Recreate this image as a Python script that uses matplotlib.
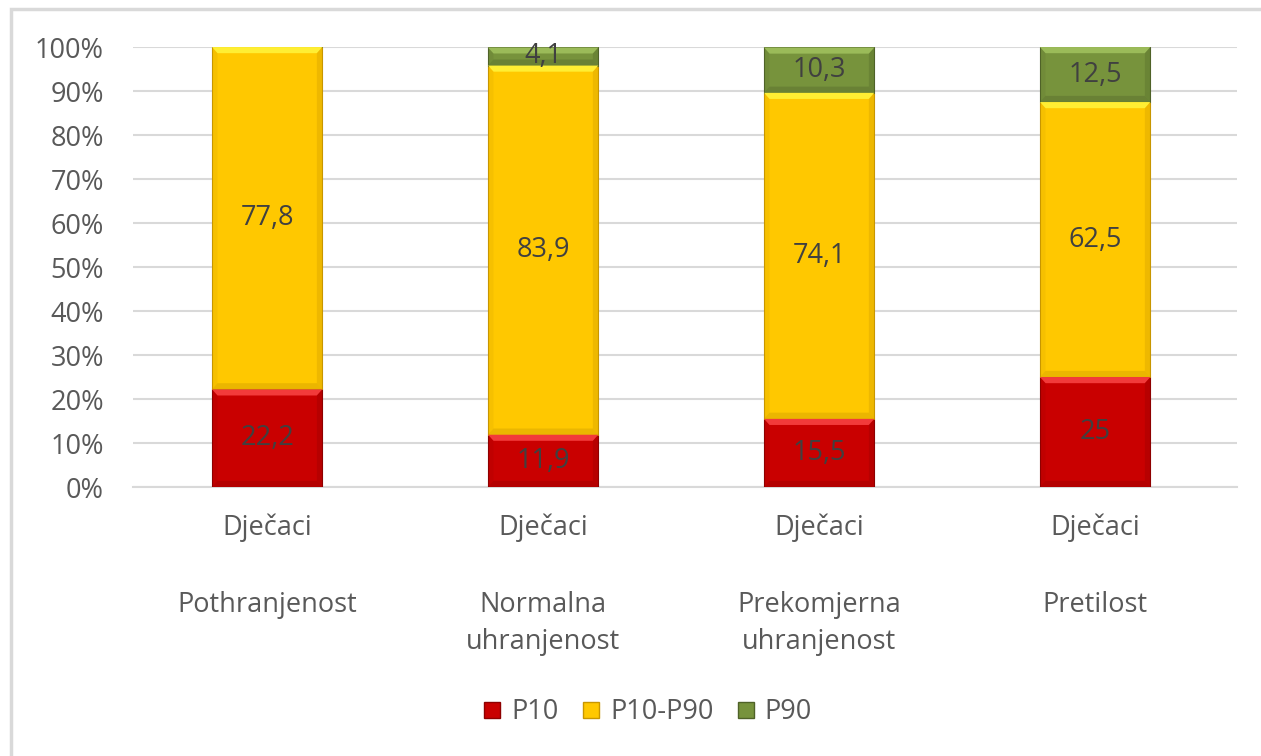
import matplotlib.pyplot as plt
from matplotlib.patches import Rectangle, Polygon
from matplotlib.lines import Line2D

plt.rcParams['font.family'] = ['Open Sans', 'DejaVu Sans']

groups = ["Pothranjenost", "Normalna\nuhranjenost", "Prekomjerna\nuhranjenost", "Pretilost"]
sex = "Dječaci"
series = ["P10", "P10-P90", "P90"]
p10 = [22.2, 11.9, 15.5, 25.0]
p10_p90 = [77.8, 83.9, 74.1, 62.5]
p90 = [0.0, 4.1, 10.3, 12.5]
value_labels = [["22,2", "11,9", "15,5", "25"],
                ["77,8", "83,9", "74,1", "62,5"],
                ["", "4,1", "10,3", "12,5"]]

face = ["#C90000", "#FFC800", "#77933C"]
light = ["#F23A3A", "#FFEE33", "#9BBB59"]
dark = ["#8E0000", "#C89600", "#4F6228"]
text_grey = "#595959"
fs = 19.5

fig = plt.figure(figsize=(12.61, 7.56), dpi=100)
ax = fig.add_axes([0.1055, 0.3558, 0.8755, 0.582])

x = range(len(groups))
width = 0.4
bottom = [0.0] * len(groups)
for k, vals in enumerate([p10, p10_p90, p90]):
    bars = ax.bar(x, vals, width, bottom=bottom, color=face[k],
                  edgecolor=dark[k], linewidth=0.8, zorder=3)
    # bevel: light top strip, darker bottom and sides
    for b, v in zip(bars, vals):
        if v <= 0:
            continue
        x0, y0 = b.get_x(), b.get_y()
        w, h = b.get_width(), b.get_height()
        dx, dy = 0.02, min(1.4, h / 3)
        ax.add_patch(Polygon([(x0, y0 + h), (x0 + w, y0 + h),
                              (x0 + w - dx, y0 + h - dy), (x0 + dx, y0 + h - dy)],
                             closed=True, facecolor=light[k], edgecolor="none", zorder=4))
        ax.add_patch(Polygon([(x0, y0), (x0 + w, y0),
                              (x0 + w - dx, y0 + dy), (x0 + dx, y0 + dy)],
                             closed=True, facecolor=dark[k], alpha=0.35, edgecolor="none", zorder=4))
        ax.add_patch(Polygon([(x0 + w, y0), (x0 + w, y0 + h),
                              (x0 + w - dx, y0 + h - dy), (x0 + w - dx, y0 + dy)],
                             closed=True, facecolor=dark[k], alpha=0.3, edgecolor="none", zorder=4))
        ax.add_patch(Polygon([(x0, y0), (x0, y0 + h),
                              (x0 + dx, y0 + h - dy), (x0 + dx, y0 + dy)],
                             closed=True, facecolor=dark[k], alpha=0.15, edgecolor="none", zorder=4))
    for i, (v, lab) in enumerate(zip(vals, value_labels[k])):
        if lab:
            ax.text(i, bottom[i] + v / 2, lab, ha="center", va="center",
                    fontsize=fs, color="#404040", zorder=5)
    bottom = [b + v for b, v in zip(bottom, vals)]

ax.set_xlim(-0.486, 3.514)
ax.set_ylim(0, 100)
ax.set_yticks(range(0, 101, 10))
ax.set_yticklabels([f"{t}%" for t in range(0, 101, 10)])
ax.tick_params(axis="y", length=0, labelsize=fs, labelcolor=text_grey, pad=21)
ax.set_xticks([])
ax.grid(axis="y", color="#D9D9D9", linewidth=1.5, zorder=0)
ax.set_axisbelow(True)
for s in ["top", "right", "left"]:
    ax.spines[s].set_visible(False)
ax.spines["bottom"].set_color("#D9D9D9")
ax.spines["bottom"].set_linewidth(1.5)

for i, g in enumerate(groups):
    ax.text(i, -9.3, sex, ha="center", va="center", fontsize=fs,
            color=text_grey, clip_on=False)
    ax.text(i, -23.6, g, ha="center", va="top", fontsize=fs,
            color=text_grey, linespacing=1.45, clip_on=False)

handles = [Line2D([], [], marker="s", linestyle="none", markersize=11,
                  markerfacecolor=face[k], markeredgecolor=dark[k]) for k in range(3)]
fig.legend(handles, series, loc="center", bbox_to_anchor=(0.514, 0.058), ncol=3,
           frameon=False, fontsize=fs, labelcolor=text_grey, handlelength=0.6,
           handletextpad=0.4, columnspacing=0.9)

# chart border
fig.add_artist(Rectangle((11 / 1261, -0.05), 1.2, 1.05 - 9 / 756, transform=fig.transFigure,
                         fill=False, edgecolor="#D9D9D9", linewidth=2.5))

fig.savefig("out.png", dpi=100, facecolor="white")
